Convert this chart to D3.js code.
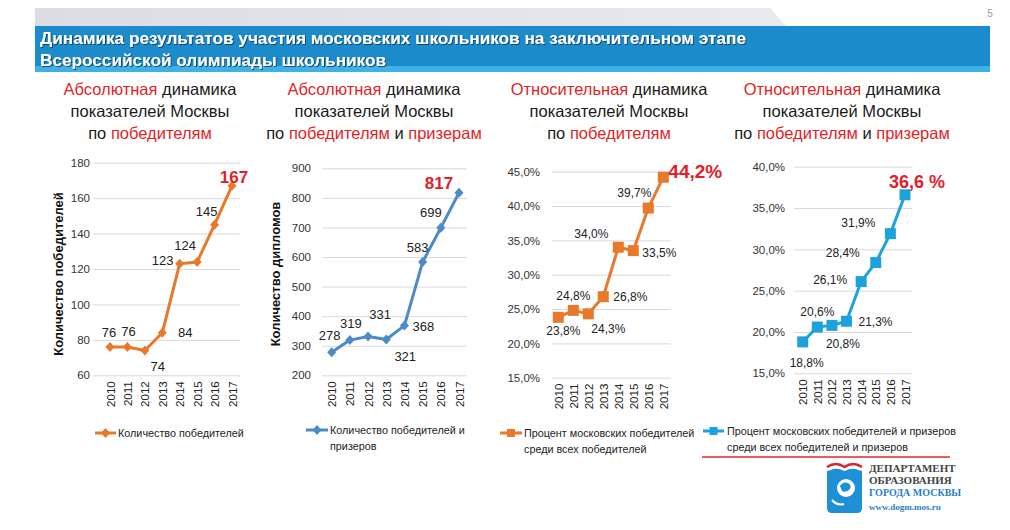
<!DOCTYPE html>
<html><head><meta charset="utf-8">
<script src="https://cdn.jsdelivr.net/npm/d3@7"></script>
<style>body{margin:0;background:#fff}svg{display:block}</style>
</head><body><svg id="c" width="1010" height="530"></svg>
<script>
// ---------- DATA ----------
const years = ["2010","2011","2012","2013","2014","2015","2016","2017"];
const winners = [76,76,74,84,123,124,145,167];
const diplomas = [278,319,331,321,368,583,699,817];
const pctWinners = [23.8,24.8,24.3,26.8,34.0,33.5,39.7,44.2];
const pctDiplomas = [18.8,20.6,20.8,21.3,26.1,28.4,31.9,36.6];
const ticksWinners = [60,80,100,120,140,160,180];
const ticksDiplomas = [200,300,400,500,600,700,800,900];
const ticksPctWinners = [15,20,25,30,35,40,45];
const ticksPctDiplomas = [15,20,25,30,35,40];
const labelsWinners = ["76","76","74","84","123","124","145","167"];
const labelsDiplomas = ["278","319","331","321","368","583","699","817"];
const labelsPctWinners = ["23,8%","24,8%","24,3%","26,8%","34,0%","33,5%","39,7%","44,2%"];
const labelsPctDiplomas = ["18,8%","20,6%","20,8%","21,3%","26,1%","28,4%","31,9%","36,6 %"];
const titleLines = ["Динамика результатов участия московских школьников на заключительном этапе",
                    "Всероссийской олимпиады школьников"];
const pageNumber = "5";
const yTitles = ["Количество победителей","Количество дипломов",null,null];
const legendTexts = [["Количество победителей"],["Количество победителей и","призеров"],
  ["Процент московских победителей","среди всех победителей"],
  ["Процент московских победителей и призеров","среди всех победителей и призеров"]];
const R="#e31e24", K="#1a1a1a";
const subtitles = [
  [[["Абсолютная",R],[" динамика",K]],[["показателей Москвы",K]],[["по ",K],["победителям",R]]],
  [[["Абсолютная",R],[" динамика",K]],[["показателей Москвы",K]],[["по ",K],["победителям",R],[" и ",K],["призерам",R]]],
  [[["Относительная",R],[" динамика",K]],[["показателей Москвы",K]],[["по ",K],["победителям",R]]],
  [[["Относительная",R],[" динамика",K]],[["показателей Москвы",K]],[["по ",K],["победителям",R],[" и ",K],["призерам",R]]]
];
const logoLines = ["ДЕПАРТАМЕНТ","ОБРАЗОВАНИЯ","ГОРОДА МОСКВЫ","www.dogm.mos.ru"];

// ---------- LAYOUT ----------
const svg = d3.select("#c");
const FONT = "'Liberation Sans', Arial, sans-serif";

// header
const defs = svg.append("defs");
const hg = defs.append("linearGradient").attr("id","hg").attr("x1",0).attr("x2",1).attr("y1",0).attr("y2",0);
hg.append("stop").attr("offset",0).attr("stop-color","#dcdde3");
hg.append("stop").attr("offset",1).attr("stop-color","#e9eaee");
svg.append("polygon").attr("points","35,8 770,8 786,26 35,26").attr("fill","url(#hg)");
svg.append("text").attr("x",990).attr("y",17).attr("font-family",FONT).attr("font-size",10)
  .attr("fill","#999").attr("text-anchor","middle").text(pageNumber);
svg.append("rect").attr("x",35).attr("y",26).attr("width",955).attr("height",41).attr("fill","#1b8bcb");
svg.append("rect").attr("x",35).attr("y",66).attr("width",955).attr("height",6).attr("fill","#3db2e8");
const f = defs.append("filter").attr("id","sh").attr("x","-5%").attr("y","-30%").attr("width","110%").attr("height","160%");
f.append("feDropShadow").attr("dx",1).attr("dy",1).attr("stdDeviation",0.6).attr("flood-color","#0a3550").attr("flood-opacity",0.8);
const titleLens = [706, 346];
titleLines.forEach((t,i)=>{
  svg.append("text").attr("x",40).attr("y",44+i*22).attr("font-family",FONT).attr("font-weight","bold")
    .attr("font-size",16.5).attr("fill","#fff").attr("filter","url(#sh)")
    .attr("textLength",titleLens[i]).attr("lengthAdjust","spacingAndGlyphs").text(t);
});

// subtitles
const subCx = [150, 374, 609, 842];
subtitles.forEach((lines,ci)=>{
  lines.forEach((segs,li)=>{
    const t = svg.append("text").attr("x",subCx[ci]).attr("y",95+li*22).attr("text-anchor","middle")
      .attr("font-family",FONT).attr("font-size",16.5);
    segs.forEach(s=>t.append("tspan").attr("fill",s[1]).text(s[0]));
  });
});

// chart configs
const charts = [
  {data:winners, ticks:ticksWinners, labels:labelsWinners, fmt:d=>d, color:"#e8782a", marker:"diamond",
   x0:110, x1:232, yTop:162.7, yBot:375.3, gx0:93, gx1:240, tickR:90, lblSize:13, hiSize:17,
   off:[[-1,-15],[1,-16],[13,16],[23,0],[-17,-3],[-12,-16],[-8,-13],[2,-9]],
   yTitle:{x:58,y:274}, leg:{x0:95,x1:116,y:433,tx:118}},
  {data:diplomas, ticks:ticksDiplomas, labels:labelsDiplomas, fmt:d=>d, color:"#4c8bc8", marker:"diamond",
   x0:331.7, x1:459, yTop:168.3, yBot:375.3, gx0:322, gx1:467, tickR:311, lblSize:13, hiSize:17,
   off:[[-2,-17],[1,-17],[12,-22],[19,17],[19,1],[-5,-15],[-10,-15],[-20,-10]],
   yTitle:{x:275,y:274}, leg:{x0:306,x1:328,y:430,tx:330}},
  {data:pctWinners, ticks:ticksPctWinners, labels:labelsPctWinners, fmt:d=>d3.format(".1f")(d).replace(".",",")+"%",
   color:"#e8782a", marker:"square",
   x0:558.3, x1:663.3, yTop:171.7, yBot:377.7, gx0:552, gx1:671, tickR:540, lblSize:12, hiSize:19,
   off:[[5,14],[0,-15],[20,15],[27,0],[-27,-13],[26,2],[-14,-15],[32,-6]],
   yTitle:null, leg:{x0:500,x1:522,y:433,tx:524}},
  {data:pctDiplomas, ticks:ticksPctDiplomas, labels:labelsPctDiplomas, fmt:d=>d3.format(".1f")(d).replace(".",",")+"%",
   color:"#1ea2de", marker:"square",
   x0:802.7, x1:905, yTop:166.7, yBot:373.3, gx0:794, gx1:912, tickR:785, lblSize:12, hiSize:18,
   off:[[4,21],[0,-15],[11,18],[29,1],[-31,-2],[-33,-10],[-32,-11],[12,-13]],
   yTitle:null, leg:{x0:703,x1:724,y:431,tx:727}}
];

function markerPath(type, cx, cy){
  if(type==="diamond"){ const w=4.5,h=5; return `M${cx},${cy-h}L${cx+w},${cy}L${cx},${cy+h}L${cx-w},${cy}Z`; }
  const s=5.5; return `M${cx-s},${cy-s}h${2*s}v${2*s}h${-2*s}Z`;
}

charts.forEach((c,ci)=>{
  const g = svg.append("g");
  const x = d3.scalePoint().domain(years).range([c.x0,c.x1]);
  const y = d3.scaleLinear().domain([c.ticks[0], c.ticks[c.ticks.length-1]]).range([c.yBot,c.yTop]);
  const grid = g.append("g").attr("transform",`translate(${c.gx0},0)`)
    .call(d3.axisLeft(y).tickValues(c.ticks).tickSize(-(c.gx1-c.gx0)).tickFormat(""));
  grid.select(".domain").remove();
  grid.selectAll("line").attr("stroke","#d9d9d9").attr("stroke-width",1);
  const ya = g.append("g").attr("transform",`translate(${c.tickR},0)`)
    .call(d3.axisLeft(y).tickValues(c.ticks).tickSize(0).tickPadding(0).tickFormat(c.fmt));
  ya.select(".domain").remove();
  ya.selectAll("text").attr("font-family",FONT).attr("font-size",11.5).attr("fill","#333");
  const xa = g.append("g").attr("transform",`translate(0,${c.yBot+6})`)
    .call(d3.axisBottom(x).tickSize(0).tickPadding(0));
  xa.select(".domain").remove();
  xa.selectAll("text").attr("font-family",FONT).attr("font-size",11.5).attr("fill","#222")
    .attr("transform","rotate(-90)").attr("text-anchor","end").attr("dy","0.35em").attr("dx","0").attr("y",0).attr("x",0);
  const line = d3.line().x((d,i)=>x(years[i])).y(d=>y(d));
  g.append("path").datum(c.data).attr("d",line).attr("fill","none").attr("stroke",c.color)
    .attr("stroke-width",3).attr("stroke-linejoin","round");
  g.selectAll(".mk").data(c.data).enter().append("path")
    .attr("d",(d,i)=>markerPath(c.marker,x(years[i]),y(d))).attr("fill",c.color);
  g.selectAll(".lb").data(c.data).enter().append("text")
    .attr("x",(d,i)=>x(years[i])+c.off[i][0]).attr("y",(d,i)=>y(d)+c.off[i][1])
    .attr("dy","0.35em").attr("text-anchor","middle").attr("font-family",FONT)
    .attr("font-size",(d,i)=>i===c.data.length-1?c.hiSize:c.lblSize)
    .attr("font-weight",(d,i)=>i===c.data.length-1?"bold":"normal")
    .attr("fill",(d,i)=>i===c.data.length-1?"#e0202a":"#222")
    .text((d,i)=>c.labels[i]);
  if(yTitles[ci]){
    g.append("text").attr("transform",`translate(${c.yTitle.x},${c.yTitle.y}) rotate(-90)`)
      .attr("text-anchor","middle").attr("dy","0.35em").attr("font-family",FONT).attr("font-weight","bold")
      .attr("font-size",13).attr("fill","#111").text(yTitles[ci]);
  }
  const L=c.leg;
  g.append("line").attr("x1",L.x0).attr("x2",L.x1).attr("y1",L.y).attr("y2",L.y).attr("stroke",c.color).attr("stroke-width",3);
  const mp = c.marker==="diamond" ? markerPath("diamond",(L.x0+L.x1)/2,L.y) :
    `M${(L.x0+L.x1)/2-4},${L.y-4}h8v8h-8Z`;
  g.append("path").attr("d",mp).attr("fill",c.color);
  legendTexts[ci].forEach((t,k)=>{
    g.append("text").attr("x",L.tx).attr("y",L.y+k*16).attr("dy","0.35em").attr("font-family",FONT)
      .attr("font-size",10.8).attr("fill","#222").text(t);
  });
});
svg.append("line").attr("x1",702).attr("x2",950).attr("y1",457).attr("y2",457).attr("stroke","#e3262b").attr("stroke-width",1.5);

// logo
const lg = svg.append("g");
lg.append("path").attr("d","M827,471 L827,508 Q827,513 832,513 L857,513 Q862,513 862,508 L862,471 Q853,466 844.5,471 Q836,466 827,471Z").attr("fill","#1f8fd6");
lg.append("path").attr("d","M827,467 Q836,461 844.5,467 Q853,461 862,467").attr("fill","none").attr("stroke","#d9262b").attr("stroke-width",2.5);
lg.append("path").attr("d","M829,470 Q837,465 844.5,470 Q852,465 860,470").attr("fill","none").attr("stroke","#fff").attr("stroke-width",1.5);
lg.append("circle").attr("cx",846).attr("cy",488).attr("r",9).attr("fill","#fff");
lg.append("path").attr("d","M840,486 q3,-5 8,-3 q4,2 2,6 q-4,4 -8,2Z").attr("fill","#1f8fd6");
lg.append("path").attr("d","M832,500 q5,6 12,4").attr("fill","none").attr("stroke","#fff").attr("stroke-width",2);
const lcol = ["#444","#444","#1f7fc6","#1f7fc6"], lsz=[11,11,10,9];
logoLines.forEach((t,i)=>{
  lg.append("text").attr("x",869).attr("y",[472,484,496,510][i]).attr("font-family","'Liberation Serif', serif")
    .attr("font-weight","bold").attr("font-size",lsz[i]).attr("fill",lcol[i]).text(t);
});
</script></body></html>
